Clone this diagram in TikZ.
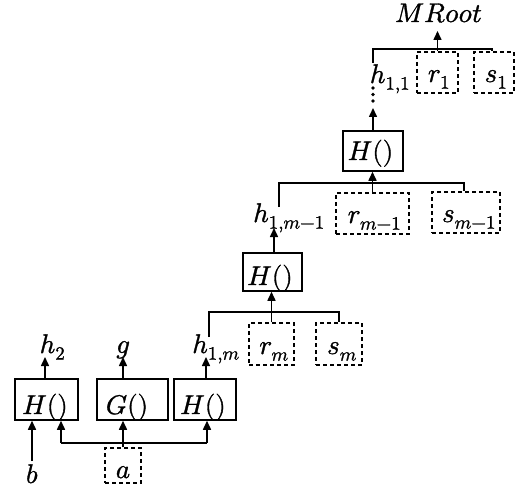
\documentclass[tikz,border=0pt]{standalone}
\usepackage{unicode-math}
\setmathfont{Latin Modern Math}[FakeBold=1.2]
\usetikzlibrary{arrows.meta,calc}
\begin{document}
\begin{tikzpicture}[x=1pt,y=-1pt,
  every node/.style={font=\fontsize{27}{31}\selectfont, inner sep=0pt},
  fn/.style={draw, line width=1.5pt, rectangle},
  var/.style={draw, line width=1.2pt, dash pattern=on 4pt off 3pt},
  lbl/.style={anchor=base},
  wire/.style={line width=1.5pt},
  arr/.style={wire, -{Triangle[length=9pt,width=8pt]}}]
\useasboundingbox (0,0) rectangle (524,489);

% ---- bottom level: two H() and one G() fed by a ----
\node[fn, minimum width=63pt, minimum height=41pt] (H1box) at (46.5,399.5) {};
\node[fn, minimum width=71pt, minimum height=41pt] (Gbox)  at (132.5,399.5) {};
\node[fn, minimum width=62pt, minimum height=41pt] (H3box) at (205,399.5) {};
\node[lbl] (H1) at (45,414) {$H()$};
\node[lbl] (G)  at (127,414) {$G()$};
\node[lbl] (H3) at (203,414) {$H()$};

\node[lbl] (b) at (32,483) {$b$};
\node[var, minimum width=36pt, minimum height=35pt] (abox) at (123,465.5) {};
\node[lbl] (a) at (123,478) {$a$};

\coordinate (btail) at (32,461);
\draw[arr] (btail) -- (btail |- H1box.south);

\coordinate (busL) at (61,443);
\coordinate (busM) at (123,443);
\coordinate (busR) at (207,443);
\draw[wire] (abox.north) -- (busM);
\draw[wire] (busL) -- (busR);
\draw[arr] (busL) -- (busL |- H1box.south);
\draw[arr] (busM) -- (busM |- Gbox.south);
\draw[arr] (busR) -- (busR |- H3box.south);

\node[lbl] (h2) at (52.5,353) {$h_2$};
\node[lbl] (g)  at (123,353) {$g$};
\node[lbl] (h1m) at (216,353) {$h_{1,m}$};
\coordinate (h2tip)  at (45,357);
\coordinate (gtip)   at (123,357);
\coordinate (h1mtip) at (206,357);
\draw[arr] (h2tip |- H1box.north) -- (h2tip);
\draw[arr] (gtip |- Gbox.north) -- (gtip);
\draw[arr] (h1mtip |- H3box.north) -- (h1mtip);

% ---- level m ----
\node[var, minimum width=45pt, minimum height=42pt] (rmbox) at (271.5,344) {};
\node[var, minimum width=46pt, minimum height=42pt] (smbox) at (339,344) {};
\node[lbl] (rm) at (274,354) {$r_m$};
\node[lbl] (sm) at (342,354) {$s_m$};

\node[fn, minimum width=59pt, minimum height=38pt] (Hmbox) at (272.5,272) {};
\node[lbl] (Hm) at (270,285) {$H()$};

\coordinate (brmL)  at (209,312);
\coordinate (brmLe) at (209,337);
\coordinate (brmR)  at (339,312);
\draw[wire] (brmLe) -- (brmL) -- (brmR) -- (brmR |- smbox.north);
\draw[arr] (rmbox.north) -- (rmbox.north |- Hmbox.south);

\node[lbl] (h1m1) at (289,222) {$h_{1,m-1}$};
\coordinate (h1m1tip) at (274,228);
\draw[arr] (h1m1tip |- Hmbox.north) -- (h1m1tip);

% ---- level m-1 ----
\node[var, minimum width=73pt, minimum height=41pt] (rm1box) at (372.5,213.5) {};
\node[var, minimum width=68pt, minimum height=41pt] (sm1box) at (466,212.5) {};
\node[lbl] (rm1) at (374.5,223) {$r_{m-1}$};
\node[lbl] (sm1) at (469,222) {$s_{m-1}$};

\node[fn, minimum width=60pt, minimum height=40pt] (Htopbox) at (373,151) {};
\node[lbl] (Htop) at (370.5,160) {$H()$};

\coordinate (brkL)  at (279,183);
\coordinate (brkLe) at (279,207);
\coordinate (brkR)  at (464,183);
\draw[wire] (brkLe) -- (brkL) -- (brkR) -- (brkR |- sm1box.north);
\draw[arr] (rm1box.north) -- (rm1box.north |- Htopbox.south);

% ---- top level ----
\coordinate (h11tip) at (373,108);
\draw[arr] (h11tip |- Htopbox.north) -- (h11tip);
% vertical ellipsis between h_{1,1} and the H() below it
\coordinate (dotsT) at (373,88);
\coordinate (dotsB) at (373,101);
\foreach \t in {0,0.5,1}
  \fill ($(dotsT)!\t!(dotsB)$) circle (1.8pt);

\node[lbl] (h11) at (390,83) {$h_{1,1}$};
\node[var, minimum width=41pt, minimum height=41pt] (r1box) at (437.5,72.5) {};
\node[var, minimum width=40pt, minimum height=41pt] (s1box) at (494,72.5) {};
\node[lbl] (r1) at (439,82) {$r_1$};
\node[lbl] (s1) at (496,82) {$s_1$};

\coordinate (br1L)  at (373,49);
\coordinate (br1Le) at (373,63);
\coordinate (br1R)  at (492,49);
\draw[wire] (br1Le) -- (br1L) -- (br1R) -- (br1R |- s1box.north);

\node[lbl] (root) at (438.5,22) {$MRoot$};
\coordinate (roottip) at (437.5,31);
\draw[arr] (r1box.north) -- (roottip);
\end{tikzpicture}
\end{document}
